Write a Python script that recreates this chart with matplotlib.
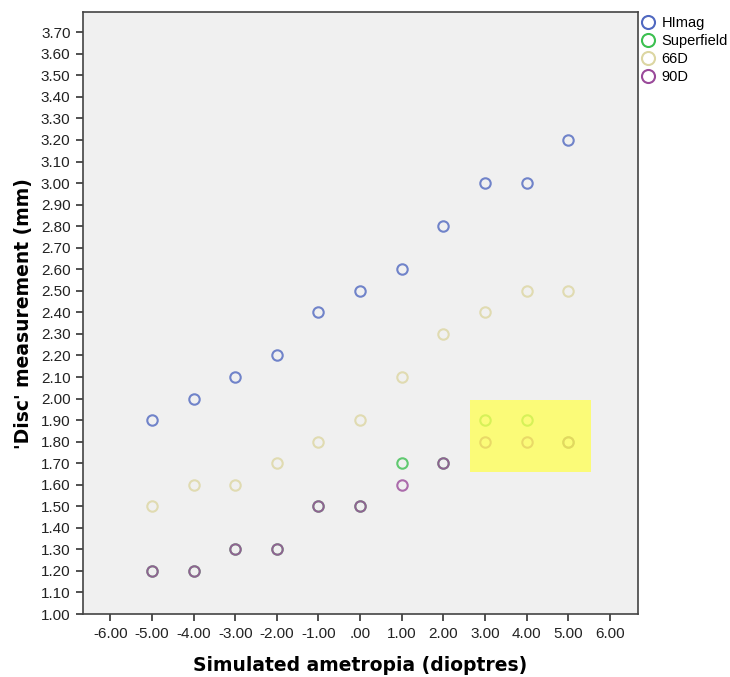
import matplotlib.pyplot as plt
import matplotlib.patches as patches
import numpy as np

ametropia = [-5, -4, -3, -2, -1, 0, 1, 2, 3, 4, 5]
himag = [1.9, 2.0, 2.1, 2.2, 2.4, 2.5, 2.6, 2.8, 3.0, 3.0, 3.2]
superfield = [1.2, 1.2, 1.3, 1.3, 1.5, 1.5, 1.7, 1.7, 1.9, 1.9, 1.8]
d66 = [1.5, 1.6, 1.6, 1.7, 1.8, 1.9, 2.1, 2.3, 2.4, 2.5, 2.5]
d90 = [1.2, 1.2, 1.3, 1.3, 1.5, 1.5, 1.6, 1.7, 1.8, 1.8, 1.8]

series = [
    ('HImag', himag, '#5068c0'),
    ('Superfield', superfield, '#3cc050'),
    ('66D', d66, '#dcd6a2'),
    ('90D', d90, '#9a4a9a'),
]

x_ticks = np.arange(-6, 7)
y_ticks = np.round(np.arange(1.0, 3.71, 0.1), 2)

fig = plt.figure(figsize=(7.30, 6.77), dpi=100)
ax = fig.add_axes([0.1137, 0.093, 0.7603, 0.889])
ax.set_facecolor('#f0f0f0')

for name, vals, col in series:
    ax.plot(ametropia, vals, 'o', ls='none', markersize=7.5, markerfacecolor='none',
            markeredgecolor=col, markeredgewidth=1.5, alpha=0.8, label=name)

# highlighted area
ax.add_patch(patches.Rectangle((2.65, 1.66), 2.91, 0.335, facecolor='#ffff50',
                               edgecolor='none', alpha=0.75, zorder=5))

ax.set_xlim(-6.66, 6.68)
ax.set_ylim(1.0, 3.793)
ax.set_xticks(x_ticks)
ax.set_xticklabels(['.00' if v == 0 else '%.2f' % v for v in x_ticks])
ax.set_yticks(y_ticks)
ax.set_yticklabels(['%.2f' % v for v in y_ticks])

for lab in ax.get_xticklabels() + ax.get_yticklabels():
    lab.set_fontfamily('Liberation Sans')
    lab.set_fontsize(11)
    lab.set_color('#222222')

ax.tick_params(direction='out', length=5, width=1.2, color='#333333', pad=4)
for sp in ax.spines.values():
    sp.set_color('#444444')
    sp.set_linewidth(1.2)

ax.set_xlabel('Simulated ametropia (dioptres)', fontsize=13.5, fontweight='bold',
              family='DejaVu Sans', labelpad=11)
ax.set_ylabel("'Disc' measurement (mm)", fontsize=13.5, fontweight='bold',
              family='DejaVu Sans', labelpad=6)

leg = ax.legend(loc='upper left', bbox_to_anchor=(1.0, 0.999), frameon=False,
                prop={'family': 'Liberation Sans', 'size': 10.5}, handletextpad=0.4,
                handlelength=1.0, borderaxespad=0.0, borderpad=0.2,
                labelspacing=0.28, markerscale=1.25)
for h in leg.legend_handles:
    h.set_alpha(1)

fig.savefig('out.png', dpi=100)
